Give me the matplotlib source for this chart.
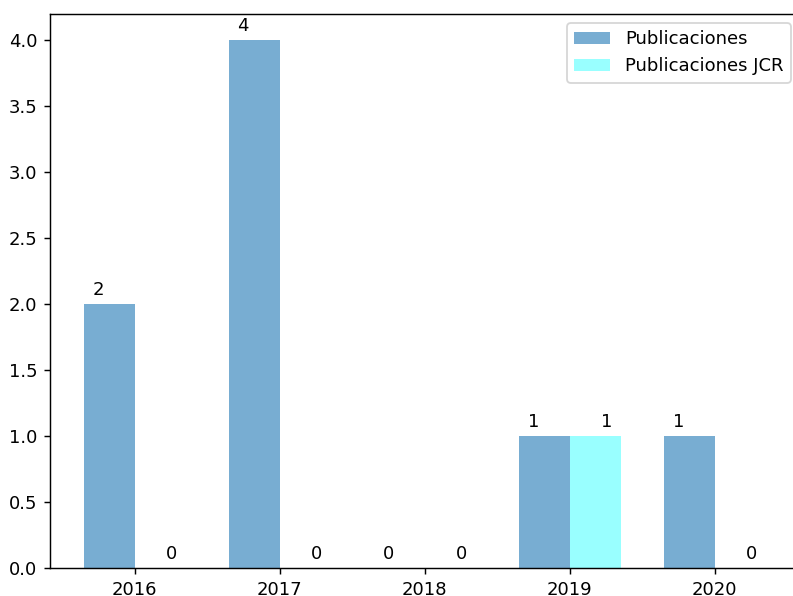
import numpy as np
import matplotlib.pyplot as plt

years = ['2016', '2017', '2018', '2019', '2020']
publicaciones = [2, 4, 0, 1, 1]
publicaciones_jcr = [0, 0, 0, 1, 0]

x = np.arange(len(years))
width = 0.35

dpi = 130
fig = plt.figure(figsize=(793 / dpi, 596 / dpi), dpi=dpi)
# the original picture is cropped on the right, so the axes run past the edge
ax = fig.add_axes([50 / 793, 28 / 596, 749.6 / 793, 554 / 596])

rects1 = ax.bar(x - width / 2, publicaciones, width, color='tab:blue', alpha=0.6,
                label='Publicaciones')
rects2 = ax.bar(x + width / 2, publicaciones_jcr, width, color='cyan', alpha=0.4,
                label='Publicaciones JCR')

ax.set_xticks(x)
ax.set_xticklabels(years)
ax.legend(loc='upper right')


def autolabel(rects, xpos='center'):
    ha = {'center': 'center', 'right': 'left', 'left': 'right'}
    offset = {'center': 0, 'right': 1, 'left': -1}
    for rect in rects:
        height = rect.get_height()
        ax.annotate('{}'.format(height),
                    xy=(rect.get_x() + rect.get_width() / 2, height),
                    xytext=(offset[xpos] * 3, 3), textcoords='offset points',
                    ha=ha[xpos], va='bottom')


autolabel(rects1, 'left')
autolabel(rects2, 'right')

fig.savefig('out.png', dpi=dpi)
